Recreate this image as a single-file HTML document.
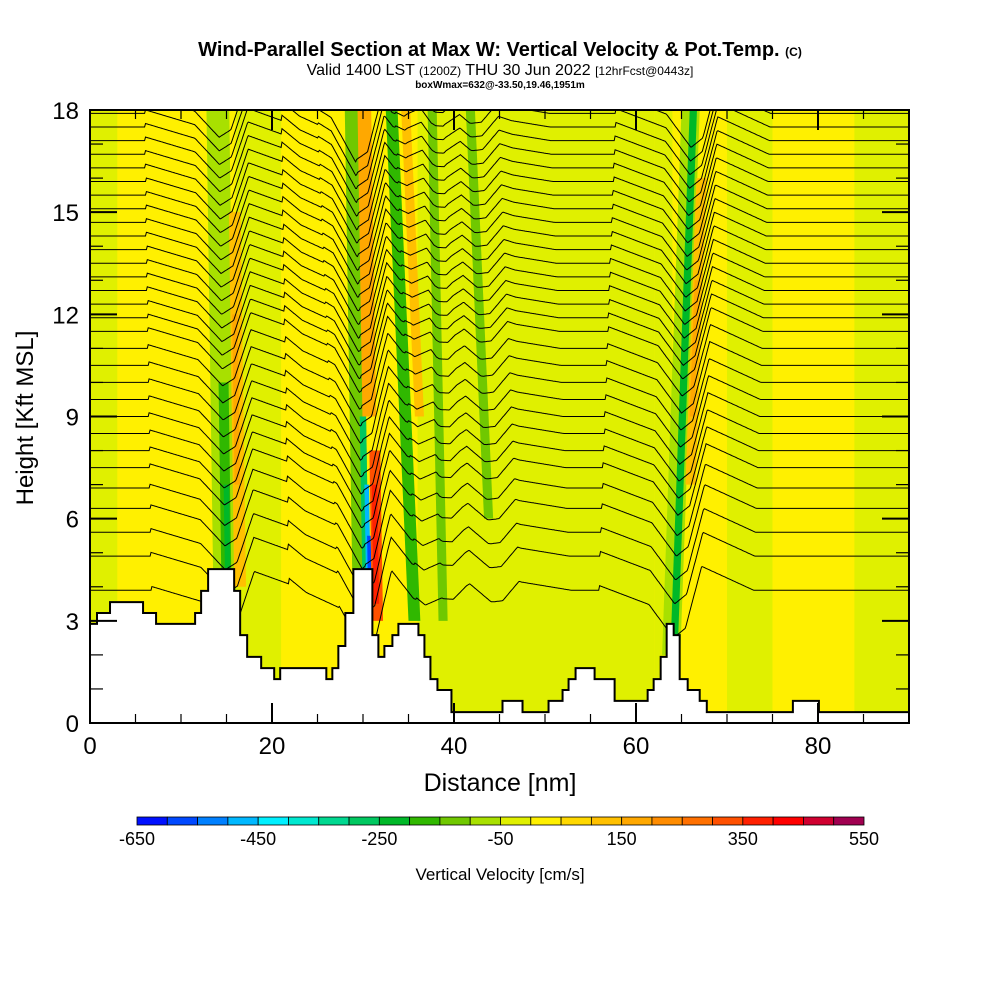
<!DOCTYPE html>
<html><head><meta charset="utf-8">
<style>
body{margin:0;background:#fff;}
svg text{font-family:"Liberation Sans",sans-serif;}
</style></head>
<body>
<svg id="chart" width="1000" height="1000" viewBox="0 0 1000 1000" xmlns="http://www.w3.org/2000/svg">
<defs><clipPath id="plotclip"><rect x="90" y="110" width="819" height="613"/></clipPath></defs>
<text x="500" y="56" text-anchor="middle" font-size="20" font-weight="bold">Wind-Parallel Section at Max W: Vertical Velocity &amp; Pot.Temp. <tspan font-size="12">(C)</tspan></text>
<text x="500" y="75" text-anchor="middle" font-size="16">Valid 1400 LST <tspan font-size="12">(1200Z)</tspan> THU 30 Jun 2022 <tspan font-size="12">[12hrFcst@0443z]</tspan></text>
<text x="500" y="88" text-anchor="middle" font-size="10" font-weight="bold">boxWmax=632@-33.50,19.46,1951m</text>
<g id="field" clip-path="url(#plotclip)"></g>
<g id="contours" clip-path="url(#plotclip)"></g>
<g id="terrain"></g>
<g id="axes"></g>
<text x="500" y="791" text-anchor="middle" font-size="25">Distance [nm]</text>
<text transform="translate(33,418) rotate(-90)" text-anchor="middle" font-size="24">Height [Kft MSL]</text>
<g id="cbar"></g>
<text x="500" y="880" text-anchor="middle" font-size="17">Vertical Velocity [cm/s]</text>
</svg>
<script>
const NS="http://www.w3.org/2000/svg";
// ---- data ----
const xTicks=[0,20,40,60,80];
const yTicks=[0,3,6,9,12,15,18];
const cbarLevels=[-650,-600,-550,-500,-450,-400,-350,-300,-250,-200,-150,-100,-50,0,50,100,150,200,250,300,350,400,450,500,550];
const cbarLabels=[-650,-450,-250,-50,150,350,550];
const cbarColors=['#0010ff','#0048ff','#0080ff','#00b8ff','#00f0ff','#00e8d0','#00d890','#00c860','#00b828','#30b800','#70c800','#a8e000','#e0f000','#fff000','#ffd800','#ffc000','#ffa800','#ff8c00','#ff7000','#ff5000','#ff2000','#ff0000','#d00030','#a00050'];
const terrainX=[0,0.77,2.2,5.83,7.26,11.55,12.21,12.98,15.84,16.5,17.27,18.81,20.24,20.9,25.97,26.63,27.29,28.06,28.94,31.03,31.69,32.35,33.23,33.89,36.09,36.75,37.41,38.18,39.72,45.33,47.53,50.39,51.93,52.59,53.36,55.45,57.65,60.18,61.28,61.94,62.71,63.37,64.14,64.8,65.68,67.0,67.78,77.24,80.1];
const terrainH=[2.91,3.23,3.55,3.23,2.91,3.23,3.88,4.52,3.88,2.58,1.94,1.61,1.29,1.61,1.29,1.61,2.26,3.23,4.52,2.58,1.94,2.26,2.58,2.91,2.58,1.94,1.29,0.97,0.32,0.65,0.32,0.65,0.97,1.29,1.61,1.29,0.65,0.65,0.97,1.29,1.94,2.91,2.58,1.29,0.97,0.65,0.32,0.65,0.32];
const bgX0=[0,16,36,62,70,84];
const bgX1=[3,21,62,64,75,90];
const bgCol=['#e0f000','#e0f000','#e0f000','#e0f000','#e0f000','#e0f000'];
const plumeBot=[15.8,30.9,36.5,39.5,45,64.8];
const plumeTop=[15.0,30.0,34.0,38.3,42.5,66.8];
const plumeAmp=[1.1,1.7,0.6,0.5,0.5,1.4];
const stripP=[0,0,0,0,0, 1,1,1,1,1,1,1, 2,2, 3, 4, 5,5,5,5];
const stripDx0=[-2.2,-1.3,-0.9,0.1,0.3, -2,-0.9,-0.5,-0.3,0.1,0.3,-0.6, -1.5,0.2, -1.2, -1.2, -1.8,-0.9,0.1,0.3];
const stripDx1=[0.3,-0.2,-0.3,1.4,0.9, -0.2,-0.2,0,0.1,1.3,0.9,0.9, -0.2,1.2, -0.2, -0.2, 0.2,-0.1,1.2,0.8];
const stripH0=[3,3.5,4,4,7, 3,2.6,3,3,3,3.5,9, 3,9, 3, 6, 2,2.5,7,9];
const stripH1=[18,10,7,15,12, 18,9,7,5.5,8,7,18, 18,18, 18, 18, 18,18,16,13];
const stripCol=['#a8e000','#30b800','#00b828','#ffc000','#ffa800', '#70c800','#00c860','#00b8ff','#0048ff','#ff5000','#ff2000','#ffa800', '#30b800','#ffc000', '#70c800', '#70c800', '#a8e000','#00b828','#ffc000','#ffa800'];
const shapeDx=[-9,-3.5,-0.8,0.5,2.3,8];
const shapeV=[0.1,-0.3,-1,-0.8,0.5,0];
const levels=[3.9,4.9,5.6,6.3,6.9,7.5,8.0,8.5,9.0,9.5,10.0,10.5,11.0,11.5,11.9,12.3,12.7,13.1,13.5,13.9,14.3,14.7,15.1,15.5,15.9,16.3,16.7,17.1,17.5,17.9,18.3];
// ---- scales ----
const X0=90,X1=909,Y0=723,Y1=110;
const sx=d=>X0+d*(X1-X0)/90;
const sy=h=>Y0-h*(Y0-Y1)/18;
function el(tag,attrs,parent){const e=document.createElementNS(NS,tag);for(const k in attrs)e.setAttribute(k,attrs[k]);parent.appendChild(e);return e;}
const pc=(i,h)=>plumeBot[i]+(plumeTop[i]-plumeBot[i])*(h-3)/15;
const field=document.getElementById('field');
let bgr=el('rect',{x:90,y:110,width:819,height:613,fill:'#fff000'},field);


for(let i=0;i<bgX0.length;i++){
 const r=el('rect',{x:sx(bgX0[i]),y:110,width:sx(bgX1[i])-sx(bgX0[i]),height:613,fill:bgCol[i]},field);
 
 
}
for(let i=0;i<stripP.length;i++){
 const p=stripP[i],h0=stripH0[i],h1=stripH1[i];
 const pts=[[pc(p,h0)+stripDx0[i],h0],[pc(p,h0)+stripDx1[i],h0],[pc(p,h1)+stripDx1[i],h1],[pc(p,h1)+stripDx0[i],h1]].map(q=>sx(q[0])+','+sy(q[1])).join(' ');
 const g=el('polygon',{points:pts,fill:stripCol[i]},field);
 
 
}
function shape(d){if(d<=shapeDx[0]||d>=shapeDx[shapeDx.length-1])return 0;
 for(let k=0;k<shapeDx.length-1;k++){if(d<=shapeDx[k+1]){const t=(d-shapeDx[k])/(shapeDx[k+1]-shapeDx[k]);return shapeV[k]+t*(shapeV[k+1]-shapeV[k]);}}return 0;}
const cg=document.getElementById('contours');
levels.forEach(L=>{
 let d='';
 for(let x=0;x<=90.01;x+=0.1){
  let h=L;for(let p=0;p<plumeBot.length;p++){h+=plumeAmp[p]*shape(x-pc(p,L));}
  d+=(d?'L':'M')+sx(x).toFixed(1)+','+sy(h).toFixed(1);
 }
 const path=el('path',{d:d,fill:'none',stroke:'#000','stroke-width':1},cg);
 
 
});
let td='M'+sx(0)+','+sy(0);
for(let i=0;i<terrainX.length;i++){const xe=i+1<terrainX.length?terrainX[i+1]:90;td+='L'+sx(terrainX[i])+','+sy(terrainH[i])+'L'+sx(xe)+','+sy(terrainH[i]);}
td+='L'+sx(90)+','+sy(0)+'Z';
const tp=el('path',{d:td,fill:'#fff',stroke:'#000','stroke-width':2},document.getElementById('terrain'));


const ax=document.getElementById('axes');
el('rect',{x:90,y:110,width:819,height:613,fill:'none',stroke:'#000','stroke-width':2},ax);
for(let v=0;v<=90;v+=5){const major=v%20===0;const L=major?20:9;
 el('line',{x1:sx(v),y1:Y0,x2:sx(v),y2:Y0-L,stroke:'#000','stroke-width':major?2:1.2},ax);
 el('line',{x1:sx(v),y1:Y1,x2:sx(v),y2:Y1+L,stroke:'#000','stroke-width':major?2:1.2},ax);}
for(let v=0;v<=18;v++){const major=v%3===0;const L=major?27:13;
 el('line',{x1:X0,y1:sy(v),x2:X0+L,y2:sy(v),stroke:'#000','stroke-width':major?2:1.2},ax);
 el('line',{x1:X1,y1:sy(v),x2:X1-L,y2:sy(v),stroke:'#000','stroke-width':major?2:1.2},ax);}
xTicks.forEach(v=>{const t=el('text',{x:sx(v),y:754,'text-anchor':'middle','font-size':24},ax);t.textContent=v;
 
 });
yTicks.forEach(v=>{const t=el('text',{x:79,y:sy(v)+9,'text-anchor':'end','font-size':24},ax);t.textContent=v;
 
 });
const cb=document.getElementById('cbar');
const cx=v=>137+(v+650)*(864-137)/1200;
for(let i=0;i<cbarColors.length;i++){
 const r=el('rect',{x:cx(cbarLevels[i]),y:817,width:cx(cbarLevels[i+1])-cx(cbarLevels[i]),height:8,fill:cbarColors[i],stroke:'#000','stroke-width':0.8},cb);
 
 
}
cbarLabels.forEach(v=>{const t=el('text',{x:cx(v),y:845,'text-anchor':'middle','font-size':18},cb);t.textContent=v;
 
 });
</script>
</body></html>
